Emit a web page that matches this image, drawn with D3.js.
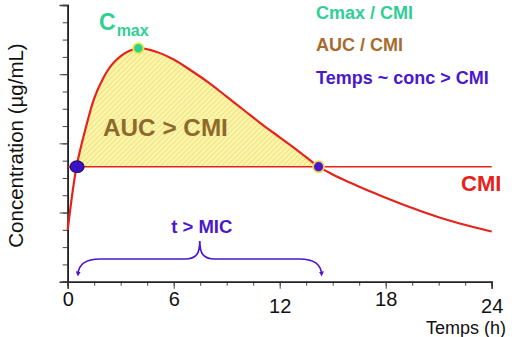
<!DOCTYPE html>
<html>
<head>
<meta charset="utf-8">
<script src="https://cdn.jsdelivr.net/npm/d3@7"></script>
<style>
  html, body { margin: 0; padding: 0; background: #fff; }
  svg { display: block; font-family: "Liberation Sans", Arial, sans-serif; }
</style>
</head>
<body>
<svg id="chart" width="522" height="337"></svg>
<script>
// Concentration–time profile (hours, µg/mL)
const hours = [0, 0.5, 1, 1.5, 2, 2.5, 3, 3.5, 4, 5, 6, 7, 8, 9, 10, 11, 12, 13, 14.2, 15, 16, 17, 18, 19, 20, 21, 22, 23, 24];
const concentration = [3.0, 6.65, 8.8, 10.6, 11.75, 12.55, 13.05, 13.35, 13.5, 13.3, 12.85, 12.2, 11.5, 10.7, 9.9, 9.1, 8.35, 7.6, 6.65, 6.2, 5.72, 5.27, 4.85, 4.45, 4.07, 3.73, 3.42, 3.15, 2.9];

// Minimum inhibitory concentration and the times the curve crosses it
const cmi = 6.65;
const crossings = [0.5, 14.2];

// Axis ticks
const xMajorTicks = [0, 6, 12, 18, 24];
const xMinorTicks = d3.range(0, 24.01, 1.5);
const yMajorTicks = [0, 4, 8, 12, 16];
const yMinorTicks = d3.range(0, 16.01, 1);

// Texts
const legendItems = ["Cmax / CMI", "AUC / CMI", "Temps ~ conc > CMI"];
const legendColors = ["#2fcf96", "#a66b2e", "#4a18cc"];

const svg = d3.select("#chart");
const x = d3.scaleLinear().domain([0, 24]).range([67.7, 491.7]);
const y = d3.scaleLinear().domain([0, 16]).range([281.7, 5]);

const red = "#e5231b";
const purple = "#4a18cc";

const points = hours.map((h, i) => ({ h, c: concentration[i] }));
const peak = points.reduce((a, b) => (b.c > a.c ? b : a));

// Hatched fill for the area above the CMI
const defs = svg.append("defs");
const pat = defs.append("pattern")
  .attr("id", "hatch")
  .attr("patternUnits", "userSpaceOnUse")
  .attr("width", 3.6).attr("height", 3.6)
  .attr("patternTransform", "rotate(45)");
pat.append("rect").attr("width", 3.6).attr("height", 3.6).attr("fill", "#fcf6a6");
pat.append("line").attr("x1", 0.5).attr("y1", 0).attr("x2", 0.5).attr("y2", 3.6)
  .attr("stroke", "#ece08e").attr("stroke-width", 1);

defs.append("clipPath").attr("id", "aboveCmi")
  .append("rect")
  .attr("x", x(0)).attr("y", 0)
  .attr("width", x(24) - x(0)).attr("height", y(cmi));

defs.append("marker")
  .attr("id", "arrow")
  .attr("viewBox", "0 0 10 10")
  .attr("refX", 5).attr("refY", 5)
  .attr("markerWidth", 5).attr("markerHeight", 5)
  .attr("markerUnits", "userSpaceOnUse")
  .attr("orient", "auto-start-reverse")
  .append("path").attr("d", "M0,0 L10,5 L0,10 Z").attr("fill", purple);

const curve = d3.curveCatmullRom.alpha(0.5);

svg.append("path")
  .datum(points)
  .attr("clip-path", "url(#aboveCmi)")
  .attr("fill", "url(#hatch)")
  .attr("d", d3.area().x(d => x(d.h)).y0(y(cmi)).y1(d => y(d.c)).curve(curve));

// Axes
const yMinor = d3.axisLeft(y).tickValues(yMinorTicks).tickSize(5).tickFormat("");
const yMajor = d3.axisLeft(y).tickValues(yMajorTicks).tickSize(8).tickFormat("");
const xMinor = d3.axisBottom(x).tickValues(xMinorTicks).tickSize(4).tickFormat("");
const xMajor = d3.axisBottom(x).tickValues(xMajorTicks).tickSize(7).tickPadding(3).tickFormat(d3.format("d"));

function styleAxis(g) {
  g.selectAll("path.domain").attr("stroke", "#222").attr("stroke-width", 1.6);
  g.selectAll(".tick line").attr("stroke", "#444").attr("stroke-width", 1);
}

svg.append("g").attr("transform", `translate(${x(0)},0)`).call(yMinor).call(styleAxis);
svg.append("g").attr("transform", `translate(${x(0)},0)`).call(yMajor).call(styleAxis);
svg.append("g").attr("transform", `translate(0,${y(0)})`).call(xMinor).call(styleAxis);
const gx = svg.append("g").attr("transform", `translate(0,${y(0)})`).call(xMajor).call(styleAxis);
gx.selectAll(".tick text")
  .attr("font-family", "Liberation Sans, Arial, sans-serif")
  .attr("font-size", 20)
  .attr("fill", "#111")
  .attr("dy", d => (d === 12 || d === 24 ? "1.08em" : "0.71em"));

svg.append("text")
  .attr("transform", `translate(23,145.5) rotate(-90)`)
  .attr("text-anchor", "middle")
  .attr("font-size", 20.5)
  .attr("fill", "#111")
  .text("Concentration (µg/mL)");

svg.append("text")
  .attr("x", 506).attr("y", 333.5)
  .attr("text-anchor", "end")
  .attr("font-size", 18)
  .attr("fill", "#111")
  .text("Temps (h)");

// CMI threshold line
svg.append("line")
  .attr("x1", x(0)).attr("x2", x(24))
  .attr("y1", y(cmi)).attr("y2", y(cmi))
  .attr("stroke", red).attr("stroke-width", 1.6);

// Concentration curve
svg.append("path")
  .datum(points)
  .attr("fill", "none")
  .attr("stroke", red)
  .attr("stroke-width", 2.2)
  .attr("d", d3.line().x(d => x(d.h)).y(d => y(d.c)).curve(curve));

// Time-above-CMI brace
const xl = x(crossings[0]) + 1.5, xr = x(crossings[1]) + 3, xm = (xl + xr) / 2;
const yb = 259, yTop = 241, yEnd = 274;
const brace = d3.path();
brace.moveTo(xl, yEnd);
brace.quadraticCurveTo(xl + 1, yb, xl + 22, yb);
brace.lineTo(xm - 15, yb);
brace.bezierCurveTo(xm - 3, yb, xm, yb - 6, xm, yTop);
brace.bezierCurveTo(xm, yb - 6, xm + 3, yb, xm + 15, yb);
brace.lineTo(xr - 22, yb);
brace.quadraticCurveTo(xr - 1, yb, xr, yEnd);
svg.append("path")
  .attr("d", brace.toString())
  .attr("fill", "none")
  .attr("stroke", purple)
  .attr("stroke-width", 1.7)
  .attr("marker-start", "url(#arrow)")
  .attr("marker-end", "url(#arrow)");

svg.append("text")
  .attr("x", xm + 2).attr("y", 233)
  .attr("text-anchor", "middle")
  .attr("font-size", 18.5).attr("font-weight", "bold")
  .attr("fill", purple)
  .text("t > MIC");

// Points: Cmax and the two CMI crossings
svg.append("ellipse")
  .attr("cx", x(crossings[0]) + 0.5).attr("cy", y(cmi))
  .attr("rx", 7).attr("ry", 5.8)
  .attr("fill", "#3d12c4").attr("stroke", "#22096e").attr("stroke-width", 1.2);

svg.append("circle")
  .attr("cx", x(crossings[1])).attr("cy", y(cmi))
  .attr("r", 5.5)
  .attr("fill", "#4a18cc").attr("stroke", "#ecd45a").attr("stroke-width", 1.8);

svg.append("circle")
  .attr("cx", x(peak.h)).attr("cy", y(peak.c))
  .attr("r", 5.2)
  .attr("fill", "#2fcf96").attr("stroke", "#e4ee44").attr("stroke-width", 1.8);

// Labels
const cmaxLabel = svg.append("text")
  .attr("x", 99).attr("y", 30)
  .attr("font-weight", "bold")
  .attr("fill", "#2fcf96");
cmaxLabel.append("tspan").attr("font-size", 23).text("C");
cmaxLabel.append("tspan").attr("font-size", 16).attr("dy", 6).attr("dx", 1).text("max");

svg.append("text")
  .attr("x", 103).attr("y", 136)
  .attr("font-size", 24.3).attr("font-weight", "bold")
  .attr("fill", "#8d6a2b")
  .text("AUC > CMI");

svg.append("text")
  .attr("x", 461).attr("y", 191)
  .attr("font-size", 22).attr("font-weight", "bold")
  .attr("fill", red)
  .text("CMI");

svg.append("g")
  .selectAll("text")
  .data(legendItems)
  .join("text")
  .attr("x", 316)
  .attr("y", (d, i) => 18.5 + i * 32.7)
  .attr("font-size", 18).attr("font-weight", "bold")
  .attr("fill", (d, i) => legendColors[i])
  .text(d => d);
</script>
</body>
</html>
